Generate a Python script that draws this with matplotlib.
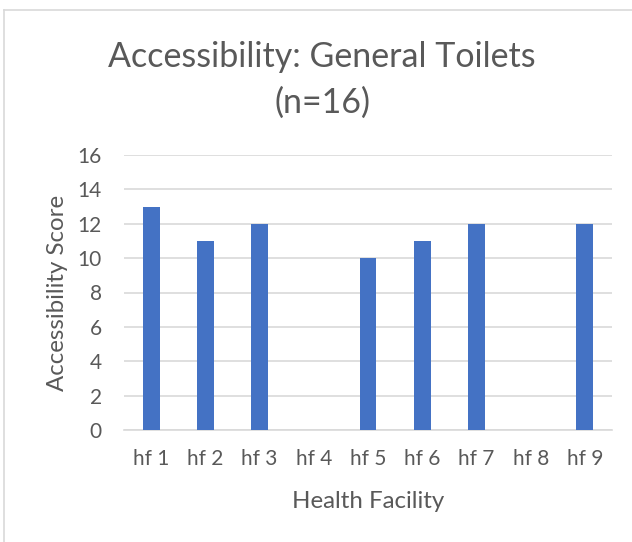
import matplotlib
matplotlib.use("Agg")
import matplotlib.pyplot as plt
from matplotlib.lines import Line2D

# Accessibility scores for general toilets per health facility
facilities = ["hf 1", "hf 2", "hf 3", "hf 4", "hf 5", "hf 6", "hf 7", "hf 8", "hf 9"]
scores = [13, 11, 12, 0, 10, 11, 12, 0, 12]
y_ticks = [0, 2, 4, 6, 8, 10, 12, 14, 16]

W, H = 632, 542
text_color = "#595959"
plt.rcParams["font.family"] = ["Lato", "DejaVu Sans"]

fig = plt.figure(figsize=(W / 100, H / 100), dpi=100)
ax = fig.add_axes([124 / W, 1 - 430 / H, (612 - 124) / W, (430 - 155) / H])

x = list(range(len(facilities)))
ax.bar(x, scores, width=0.31, color="#4472C4", zorder=3)

ax.set_xlim(-0.5, len(facilities) - 0.5)
ax.set_ylim(0, 16)
ax.set_yticks(y_ticks)
ax.set_xticks(x)
ax.set_xticklabels(facilities)
ax.grid(axis="y", color="#d9d9d9", linewidth=1.2, zorder=0)
for side in ["top", "right", "left"]:
    ax.spines[side].set_visible(False)
ax.spines["bottom"].set_color("#d9d9d9")
ax.spines["bottom"].set_linewidth(1.2)
ax.tick_params(axis="both", length=0, labelsize=15, colors=text_color)
ax.tick_params(axis="y", pad=16)
ax.tick_params(axis="x", pad=14)

ax.set_ylabel("Accessibility Score", fontsize=17.3, color=text_color)
ax.yaxis.set_label_coords((57 - 124) / (612 - 124), 0.5)
ax.set_xlabel("Health Facility", fontsize=17.3, color=text_color)
ax.xaxis.set_label_coords((368 - 124) / (612 - 124), -(502 - 430) / (430 - 155))
ax.xaxis.label.set_va("center")
ax.yaxis.label.set_va("center")

fig.text(322 / W, 1 - 57 / H, "Accessibility: General Toilets", ha="center", va="center",
         fontsize=24.5, color=text_color)
fig.text(322 / W, 1 - 103 / H, "(n=16)", ha="center", va="center",
         fontsize=24.5, color=text_color)

# chart area frame (left and top edges)
fig.add_artist(Line2D([4 / W, 4 / W], [0, 1 - 10 / H], color="#d9d9d9", linewidth=1.2,
                      transform=fig.transFigure))
fig.add_artist(Line2D([4 / W, 1], [1 - 10 / H, 1 - 10 / H], color="#d9d9d9", linewidth=1.2,
                      transform=fig.transFigure))

fig.savefig("out.png", dpi=100, facecolor="white")
